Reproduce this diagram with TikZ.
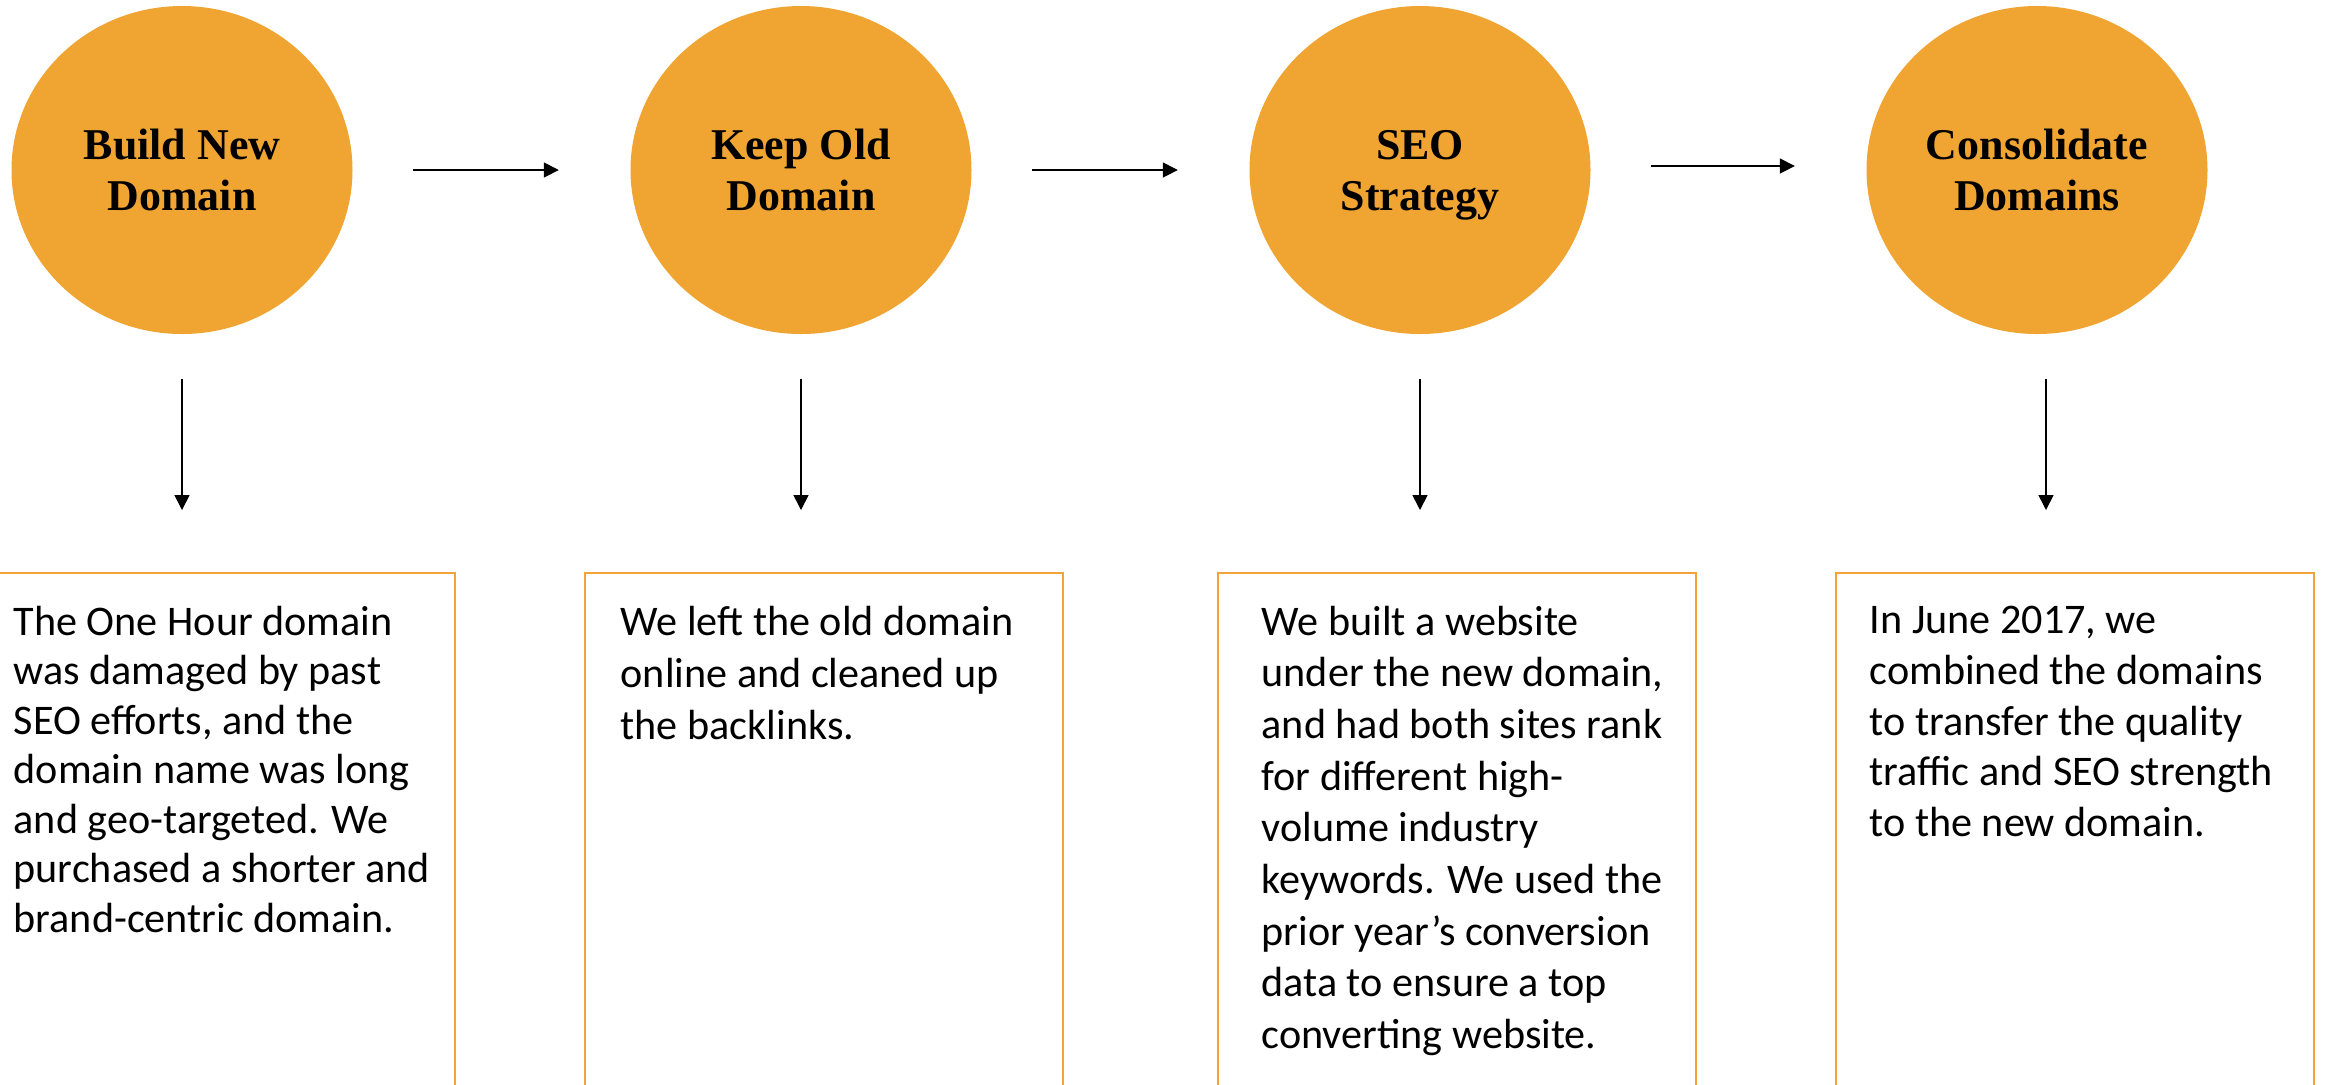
\documentclass[tikz,border=0pt]{standalone}
\usepackage{fontspec}
\setmainfont{Liberation Serif}
\newfontfamily\bodyfont{Carlito}
\usepackage{tikz}
\usetikzlibrary{arrows.meta,positioning,shapes.geometric}
\definecolor{stepfill}{HTML}{F0A431}
\definecolor{boxline}{HTML}{F2A43A}
\tikzset{
	stepnode/.style={ellipse, fill=stepfill, minimum width=3.41cm, minimum height=3.28cm,
		inner sep=0pt, align=center, font=\fontsize{12.5}{14.5}\selectfont\bfseries},
	infobox/.style={draw=boxline, line width=0.55pt, minimum width=4.78cm,
		minimum height=6cm, anchor=north west, inner sep=0pt},
	bodytext/.style={anchor=north west, align=left, inner sep=0pt,
		font=\bodyfont\fontsize{12}{14.5}\selectfont},
	arrow/.style={-{Triangle[length=1.5mm,width=1.5mm]}, line width=0.45pt}
}

\begin{document}
\begin{tikzpicture}
	
	%% -- Page frame (boxes run off the bottom edge)
	\useasboundingbox (0,0) rectangle (23.26,-10.84);
	\clip (0,0) rectangle (23.26,-10.84);
	
	%% -- Step bubbles along the top
	\node[stepnode] (step1) at (1.82,-1.70)  {Build New\\Domain};
	\node[stepnode] (step2) at (8.01,-1.70)  {Keep Old\\Domain};
	\node[stepnode, text depth=0pt] (step3) at (14.20,-1.70) {SEO\\Strategy};
	\node[stepnode] (step4) at (20.37,-1.70) {Consolidate\\Domains};
	
	%% -- Description boxes
	\node[infobox] (box1) at (-0.24,-5.72) {};
	\node[infobox] (box2) at (5.84,-5.72)  {};
	\node[infobox] (box3) at (12.17,-5.72) {};
	\node[infobox] (box4) at (18.35,-5.72) {};
	
	\node[bodytext, font=\bodyfont\fontsize{12}{14.1}\selectfont] (text1)
	at ([xshift=3.7mm,yshift=-3.3mm]box1.north west)
	{
		The One Hour domain\\
		was damaged by past\\
		SEO efforts, and the\\
		domain name was long\\
		and geo-targeted. We\\
		purchased a shorter and\\
		brand-centric domain.
	};
	
	\node[bodytext, font=\bodyfont\fontsize{12}{14.8}\selectfont] (text2)
	at ([xshift=3.6mm,yshift=-3.3mm]box2.north west)
	{
		We left the old domain\\
		online and cleaned up\\
		the backlinks.
	};
	
	\node[bodytext, font=\bodyfont\fontsize{12}{14.7}\selectfont] (text3)
	at ([xshift=4.4mm,yshift=-3.3mm]box3.north west)
	{
		We built a website\\
		under the new domain,\\
		and had both sites rank\\
		for different high-\\
		volume industry\\
		keywords. We used the\\
		prior year’s conversion\\
		data to ensure a top\\
		converting website.
	};
	
	\node[bodytext] (text4) at ([xshift=3.4mm,yshift=-3.3mm]box4.north west)
	{
		In June 2017, we\\
		combined the domains\\
		to transfer the quality\\
		traffic and SEO strength\\
		to the new domain.
	};
	
	%% -- Arrows: step to step
	\draw[arrow, shorten <=6mm, shorten >=7.1mm] (step1.east) -- (step2.west);
	\draw[arrow, shorten <=6mm, shorten >=7.1mm] (step2.east) -- (step3.west);
	\draw[arrow, shorten <=6mm, shorten >=7.1mm] ([yshift=0.4mm]step3.east) -- ([yshift=0.4mm]step4.west);
	
	%% -- Arrows: step down to its box
	\foreach \i in {1,...,3}
	\draw[arrow, shorten <=4.4mm, shorten >=6.2mm]
	(step\i.south) -- (step\i.south |- box\i.north);
	\draw[arrow, shorten <=4.4mm, shorten >=6.2mm]
	([xshift=0.9mm]step4.south) -- ([xshift=0.9mm]step4.south |- box4.north);
	
\end{tikzpicture}
\end{document}
